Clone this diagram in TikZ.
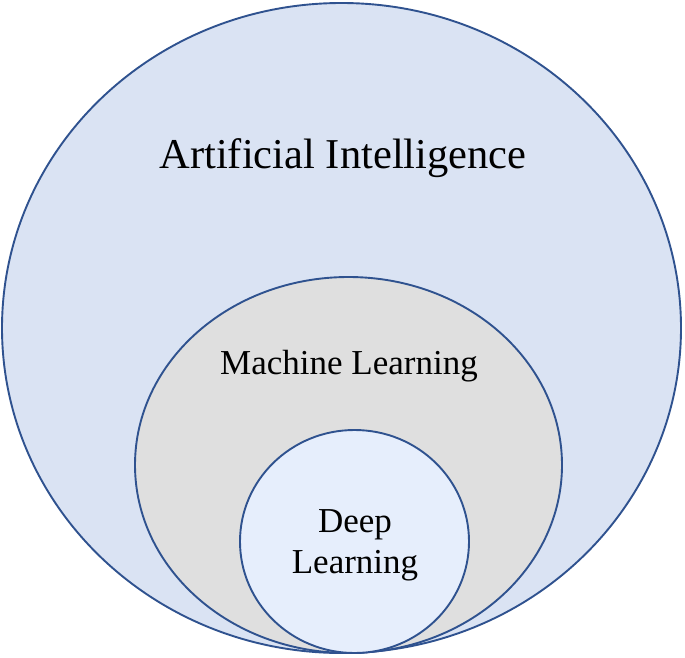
\documentclass[tikz,border=0pt]{standalone}
\usepackage{fontspec}
\setmainfont{Liberation Serif}
\definecolor{aiblue}{HTML}{DAE3F3}
\definecolor{mlgray}{HTML}{DFDFDF}
\definecolor{dlblue}{HTML}{E6EEFC}
\definecolor{rimblue}{HTML}{2F528F}
\tikzset{
  rim/.style={draw=rimblue, line width=1.9pt},
  lbl/.style={inner sep=0pt, align=center, text=black}
}
\begin{document}
\begin{tikzpicture}[x=1pt,y=-1pt]
        \useasboundingbox (0,0) rectangle (685,658);
        \draw[rim, fill=aiblue] (341.5,328) ellipse [x radius=339.5, y radius=325]; %AI
        \draw[rim, fill=mlgray] (348.5,465) ellipse [x radius=213.5, y radius=188]; %ML
        \draw[rim, fill=dlblue] (354.5,541.5) ellipse [x radius=114.5, y radius=111.5]; %DL

        \node[lbl, font=\fontsize{42.5}{50}\selectfont] (ai) at (343,158) {Artificial Intelligence};
        \node[lbl, font=\fontsize{35}{41}\selectfont] (ml) at (349,366) {Machine Learning};
        \node[lbl, font=\fontsize{35}{41}\selectfont] (dl) at (355,545) {Deep\\Learning};
\end{tikzpicture}
\end{document}
